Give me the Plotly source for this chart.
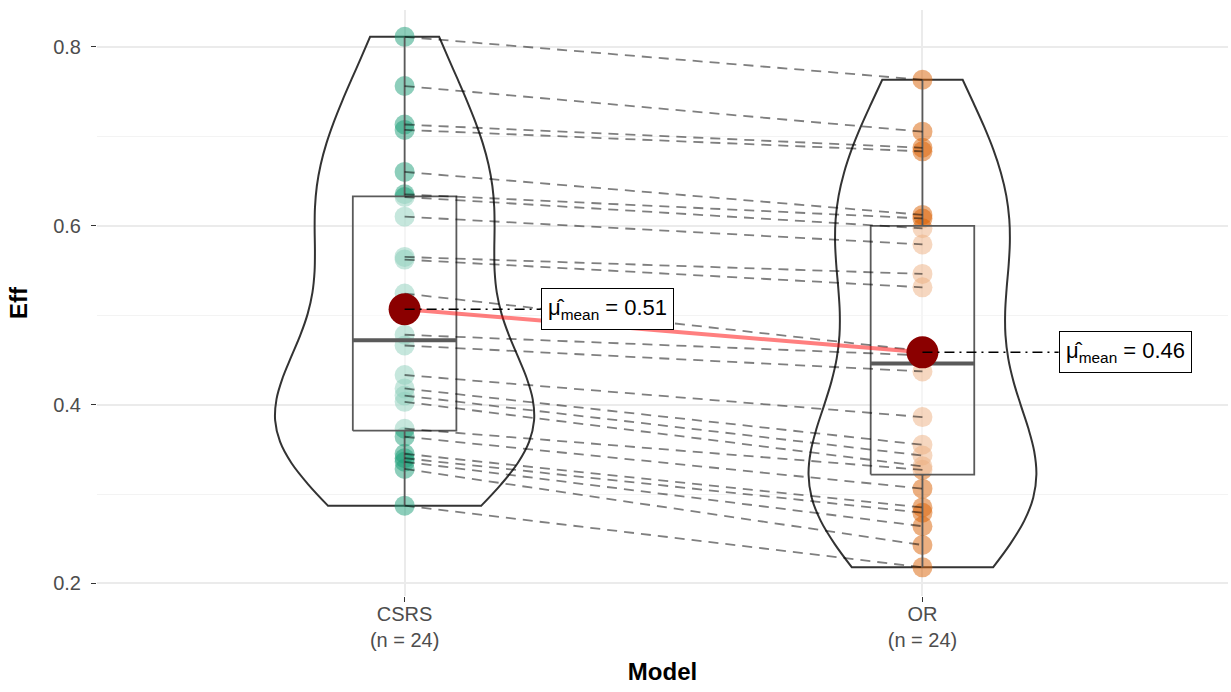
import numpy as np
import plotly.graph_objects as go

# ---- data (paired by subject) ----
categories = ["CSRS", "OR"]
csrs = [0.811, 0.756, 0.713, 0.707, 0.660, 0.635, 0.632, 0.610, 0.565, 0.562, 0.524, 0.478,
        0.466, 0.433, 0.418, 0.410, 0.403, 0.373, 0.364, 0.345, 0.340, 0.336, 0.328, 0.287]
orr = [0.763, 0.705, 0.687, 0.683, 0.612, 0.608, 0.597, 0.579, 0.546, 0.531, 0.460, 0.455,
       0.437, 0.386, 0.355, 0.343, 0.331, 0.327, 0.306, 0.285, 0.279, 0.264, 0.243, 0.218]
tick_text = ["CSRS<br>(n = 24)", "OR<br>(n = 24)"]
y_ticks = [0.2, 0.4, 0.6, 0.8]

series = [csrs, orr]
xpos = [1, 2]
pt_colors = ["rgba(27,158,119,0.5)", "rgba(217,95,2,0.5)"]
violin_widths = [0.5, 0.44]
FONT = "Liberation Sans, Arial, sans-serif"


def bw_nrd0(v):
    v = np.asarray(v)
    sd = np.std(v, ddof=1)
    q1, q3 = np.percentile(v, [25, 75])
    return 0.9 * min(sd, (q3 - q1) / 1.34) * len(v) ** (-0.2)


fig = go.Figure()

# violins
for i, (xp, vals) in enumerate(zip(xpos, series)):
    fig.add_trace(go.Violin(
        x=[xp] * len(vals), y=vals, width=violin_widths[i], spanmode="hard",
        bandwidth=bw_nrd0(vals), scalegroup="g%d" % i, scalemode="width", side="both",
        line=dict(color="#333333", width=2), fillcolor="rgba(255,255,255,0)",
        points=False, box_visible=False, meanline_visible=False,
        hoverinfo="skip", showlegend=False))

# points
for xp, vals, c in zip(xpos, series, pt_colors):
    fig.add_trace(go.Scatter(
        x=[xp] * len(vals), y=vals, mode="markers",
        marker=dict(size=20, color=c, line=dict(width=0)),
        hoverinfo="skip", showlegend=False))

# boxes (type-7 quartiles, like ggplot)
for xp, vals in zip(xpos, series):
    v = np.asarray(vals)
    q1, med, q3 = np.percentile(v, [25, 50, 75])
    iqr = q3 - q1
    wmax = v[v <= q3 + 1.5 * iqr].max()
    wmin = v[v >= q1 - 1.5 * iqr].min()
    hw = 0.1
    fig.add_trace(go.Scatter(
        x=[xp - hw, xp + hw, xp + hw, xp - hw, xp - hw], y=[q1, q1, q3, q3, q1],
        mode="lines", fill="toself", fillcolor="rgba(255,255,255,0.5)",
        line=dict(color="#5a5a5a", width=1.8), hoverinfo="skip", showlegend=False))
    fig.add_trace(go.Scatter(
        x=[xp, xp, None, xp, xp], y=[q3, wmax, None, q1, wmin], mode="lines",
        line=dict(color="#5a5a5a", width=1.8), hoverinfo="skip", showlegend=False))
    fig.add_trace(go.Scatter(
        x=[xp - hw, xp + hw], y=[med, med], mode="lines",
        line=dict(color="#5a5a5a", width=4), hoverinfo="skip", showlegend=False))

# paired dashed paths
px, py = [], []
for a, b in zip(csrs, orr):
    px += [1, 2, None]
    py += [a, b, None]
fig.add_trace(go.Scatter(x=px, y=py, mode="lines",
                         line=dict(color="rgba(0,0,0,0.5)", width=1.8, dash="10px,7px"),
                         hoverinfo="skip", showlegend=False))

# means
means = [float(np.mean(s)) for s in series]
fig.add_trace(go.Scatter(x=xpos, y=means, mode="lines",
                         line=dict(color="rgba(255,0,0,0.5)", width=4),
                         hoverinfo="skip", showlegend=False))
fig.add_trace(go.Scatter(x=xpos, y=means, mode="markers",
                         marker=dict(size=32, color="#8B0000"),
                         hoverinfo="skip", showlegend=False))

# label connectors + labels
label_dx = 0.263
for xp, m in zip(xpos, means):
    fig.add_trace(go.Scatter(x=[xp, xp + label_dx], y=[m, m], mode="lines",
                             line=dict(color="black", width=1.5, dash="10px,5px,2px,5px"),
                             hoverinfo="skip", showlegend=False))
    fig.add_annotation(x=xp + label_dx, y=m, xanchor="left", yanchor="middle",
                       text="μ̂<sub>mean</sub> = %.2f" % m, showarrow=False,
                       font=dict(family=FONT, size=22, color="black"),
                       bgcolor="white", bordercolor="black", borderwidth=1, borderpad=6)

fig.update_layout(
    width=1231, height=692,
    margin=dict(l=97, r=3, t=10, b=96),
    plot_bgcolor="white", paper_bgcolor="white",
    violinmode="overlay",
    font=dict(family=FONT),
    xaxis=dict(range=[0.406, 2.59], tickvals=xpos, ticktext=tick_text,
               showgrid=True, gridcolor="#EBEBEB", gridwidth=1.5, zeroline=False,
               ticks="outside", ticklen=5, tickcolor="#333333", tickwidth=1.2,
               ticklabelstandoff=-5,
               tickfont=dict(family=FONT, size=20, color="#4D4D4D"),
               title=dict(text="<b>Model</b>", font=dict(family=FONT, size=24, color="black"),
                          standoff=13),
               showline=False),
    yaxis=dict(range=[0.186, 0.841], tickvals=y_ticks, ticktext=["0.2", "0.4", "0.6", "0.8"],
               showgrid=True, gridcolor="#EBEBEB", gridwidth=1.5, zeroline=False,
               ticks="outside", ticklen=5, tickcolor="#333333", tickwidth=1.2,
               ticklabelstandoff=6,
               tickfont=dict(family=FONT, size=20, color="#4D4D4D"),
               minor=dict(dtick=0.1, tick0=0.1, showgrid=True, gridcolor="#F3F3F3", gridwidth=1),
               title=dict(text="<b>Eff</b>", font=dict(family=FONT, size=24, color="black"),
                          standoff=18),
               showline=False),
)

fig.write_html("out.html", config={"displayModeBar": False},
               post_script="document.body.style.margin='0';")
